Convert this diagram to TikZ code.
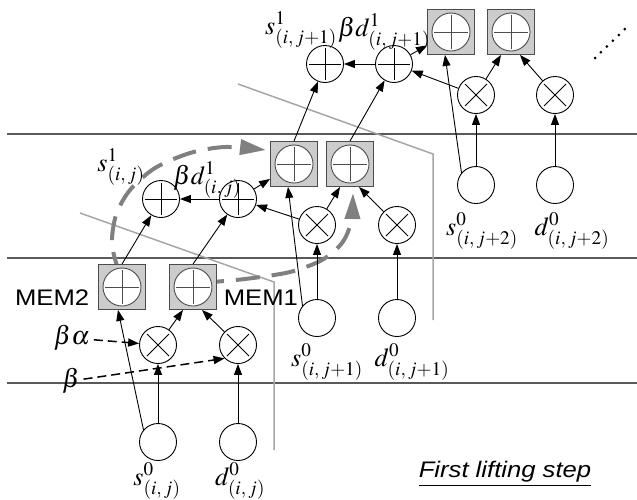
\documentclass[tikz,border=0pt]{standalone}
\usepackage{mathptmx}
\usepackage[no-math]{fontspec}
\newfontfamily\helv[FakeStretch=1.14]{Liberation Sans}
\usepackage{tikz}
\usetikzlibrary{arrows.meta,calc}

\begin{document}
\begin{tikzpicture}[x=1pt,y=-1pt,line width=0.9pt,
  arr/.style={-{Triangle[length=11pt,width=8pt]}},
  dasharr/.style={arr,line width=1.5pt,dash pattern=on 9pt off 5pt},
  sep/.style={black!65,line width=1.2pt},
  part/.style={black!35,line width=1.5pt},
  flow/.style={black!50,line width=4pt,dash pattern=on 24pt off 12pt,
    -{Triangle[length=26pt,width=15pt]}},
  innode/.style={circle,draw,fill=white,minimum size=37pt,inner sep=0pt},
  sumnode/.style={innode,path picture={
    \draw ([xshift=-16pt]path picture bounding box.center)
      -- ([xshift=16pt]path picture bounding box.center)
      ([yshift=-16pt]path picture bounding box.center)
      -- ([yshift=16pt]path picture bounding box.center);}},
  mulnode/.style={innode,path picture={
    \draw ([shift={(-11pt,-11pt)}]path picture bounding box.center)
      -- ([shift={(11pt,11pt)}]path picture bounding box.center)
      ([shift={(-11pt,11pt)}]path picture bounding box.center)
      -- ([shift={(11pt,-11pt)}]path picture bounding box.center);}},
  membox/.style={rectangle,draw=black!70,fill=black!20,minimum width=47pt,
    minimum height=45pt,inner sep=0pt,path picture={
    \draw[fill=white] (path picture bounding box.center) circle[radius=19pt];
    \draw ([xshift=-17pt]path picture bounding box.center)
      -- ([xshift=17pt]path picture bounding box.center)
      ([yshift=-17pt]path picture bounding box.center)
      -- ([yshift=17pt]path picture bounding box.center);}},
  lbl/.style={font=\fontsize{26}{30}\selectfont},
  mem/.style={font=\fontsize{22.5}{26}\selectfont\helv}]
  \useasboundingbox (0,0) rectangle (637,499);

  \draw[sep] (7,134) -- (637,134);
  \draw[sep] (7,258) -- (637,258);
  \draw[sep] (7,383) -- (637,383);
  \draw[part] (80,213) -- (274,282) -- (274,450);
  \draw[part] (238,84) -- (433,154) -- (433,320);

  \draw[flow] plot[smooth] coordinates
    {(120,275) (112,245) (116,215) (130,190) (155,168) (190,153) (225,147) (266,150)};
  \draw[flow] plot[smooth] coordinates
    {(200,283) (245,279) (290,272) (322,260) (342,243) (351,222) (353,193)};

  \node[membox] (bA1) at (122,287) {};
  \node[membox] (bA2) at (193,287) {};
  \node[mulnode] (xA1) at (158,345) {};
  \node[mulnode] (xA2) at (238,345) {};
  \node[innode] (sA) at (158,442) {};
  \node[innode] (dA) at (238,442) {};
  \node[sumnode] (pA1) at (161,199) {};
  \node[sumnode] (pA2) at (238,199) {};

  \node[membox] (bB1) at (294,164) {};
  \node[membox] (bB2) at (350,164) {};
  \node[mulnode] (xB1) at (317,225) {};
  \node[mulnode] (xB2) at (397,225) {};
  \node[innode] (sB) at (317,318) {};
  \node[innode] (dB) at (397,318) {};
  \node[sumnode] (pB1) at (325,64) {};
  \node[sumnode] (pB2) at (394,64) {};

  \node[membox] (bC1) at (451,32) {};
  \node[membox] (bC2) at (511,32) {};
  \node[mulnode] (xC1) at (476,95) {};
  \node[mulnode] (xC2) at (555,95) {};
  \node[innode] (sC) at (476,185) {};
  \node[innode] (dC) at (555,185) {};

  \draw[arr] (sA) -- (xA1);
  \draw[arr] (dA) -- (xA2);
  \draw[arr] (sA.140) -- ([xshift=-4pt]bA1.south);
  \draw[arr] (xA1) -- ([xshift=-10pt]bA2.south);
  \draw[arr] (xA2) -- ([xshift=9pt]bA2.south);
  \draw[arr] (bA1.north) -- (pA1);
  \draw[arr] (bA2.north) -- (pA2);
  \draw[arr] (pA2) -- (pA1);
  \draw[arr] (pA2) -- (bB1);
  \draw[arr] (xB1) -- (pA2);

  \draw[arr] (sB) -- (xB1);
  \draw[arr] (dB) -- (xB2);
  \draw[arr] (sB.140) -- ([xshift=-6pt]bB1.south);
  \draw[arr] (xB1) -- ([xshift=-10pt]bB2.south);
  \draw[arr] (xB2) -- ([xshift=9pt]bB2.south);
  \draw[arr] (bB1.north) -- (pB1);
  \draw[arr] (bB2.north) -- (pB2);
  \draw[arr] (pB2) -- (pB1);
  \draw[arr] (pB2) -- (bC1);
  \draw[arr] (xC1) -- (pB2);

  \draw[arr] (sC) -- (xC1);
  \draw[arr] (dC) -- (xC2);
  \draw[arr] (sC.140) -- ([xshift=-6pt]bC1.south);
  \draw[arr] (xC1) -- ([xshift=-10pt]bC2.south);
  \draw[arr] (xC2) -- ([xshift=9pt]bC2.south);

  \node[lbl] (ba) at (72,338) {$\beta\alpha$};
  \node[lbl] (b) at (71,381) {$\beta$};
  \draw[dasharr] (ba) -- (xA1);
  \draw[dasharr] (b) -- (xA2.south west);

  \node[mem,anchor=base east] (m2) at (93,305) {MEM2};
  \node[mem,anchor=base west] (m1) at (220,305) {MEM1};

  \node[lbl] (lsA1) at (121,167) {$s^1_{(i,\,j)}$};
  \node[lbl] (ldA1) at (207,180) {$\beta d^1_{(i,\,j)}$};
  \node[lbl] (lsB1) at (301,30) {$s^1_{(i,\,j+1)}$};
  \node[lbl] (ldB1) at (384,32) {$\beta d^1_{(i,\,j+1)}$};
  \node[lbl] (lsA0) at (157,481) {$s^0_{(i,\,j)}$};
  \node[lbl] (ldA0) at (240,481) {$d^0_{(i,\,j)}$};
  \node[lbl] (lsB0) at (327,362) {$s^0_{(i,\,j+1)}$};
  \node[lbl] (ldB0) at (412,362) {$d^0_{(i,\,j+1)}$};
  \node[lbl] (lsC0) at (482,231) {$s^0_{(i,\,j+2)}$};
  \node[lbl] (ldC0) at (572,231) {$d^0_{(i,\,j+2)}$};

  \draw[line width=3pt,line cap=round,dash pattern=on 0pt off 8.3pt]
    (595,58) -- (626,28);
  \node[mem,font=\fontsize{22.5}{26}\selectfont\helv\itshape] (cap) at (505,474)
    {\underline{First lifting step}};
\end{tikzpicture}
\end{document}
